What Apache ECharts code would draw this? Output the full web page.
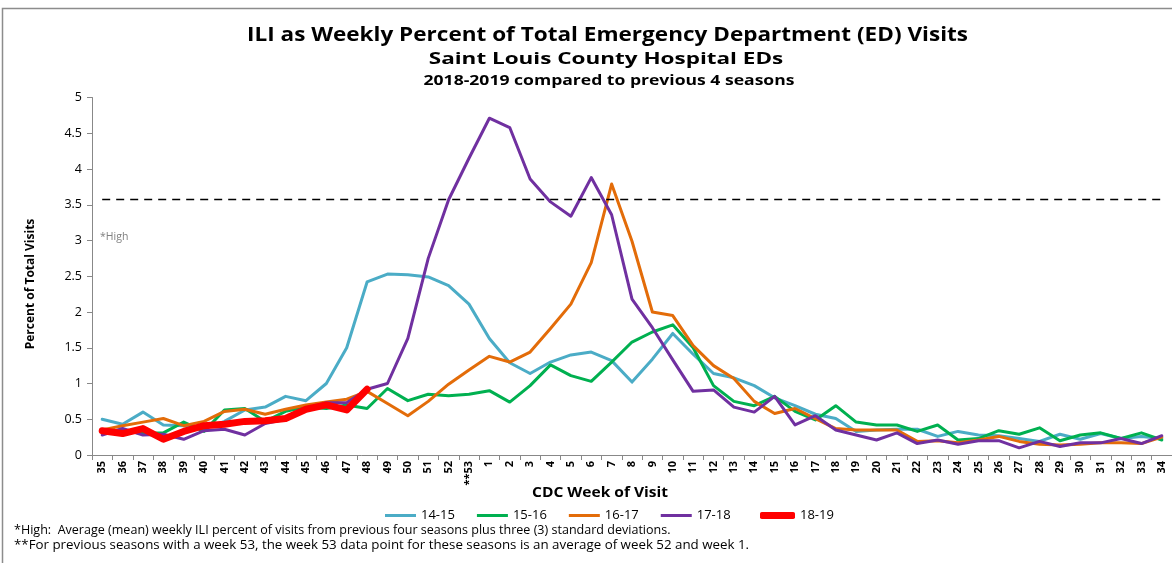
<!DOCTYPE html>
<html>
<head>
<meta charset="utf-8">
<script src="https://cdn.jsdelivr.net/npm/echarts@6/dist/echarts.min.js"></script>
<style>
html,body{margin:0;padding:0;background:#fff;}
#chart{width:1172px;height:563px;}
</style>
</head>
<body>
<div id="chart"></div>
<script>
const weeks = ['35','36','37','38','39','40','41','42','43','44','45','46','47','48','49','50','51','52','**53',
  '1','2','3','4','5','6','7','8','9','10','11','12','13','14','15','16','17','18','19','20','21','22','23','24','25','26','27','28','29','30','31','32','33','34'];

const s1415 = [0.50,0.43,0.60,0.42,0.41,0.37,0.47,0.63,0.67,0.82,0.76,1.00,1.50,2.42,2.53,2.52,2.49,2.37,2.11,
  1.63,1.29,1.14,1.30,1.40,1.44,1.32,1.02,1.34,1.70,1.41,1.14,1.08,0.97,0.80,0.69,0.57,0.51,0.33,0.35,0.36,0.36,0.26,0.33,0.28,0.27,0.23,0.19,0.29,0.22,0.30,0.23,0.26,0.23];
const s1516 = [0.33,0.34,0.30,0.31,0.46,0.33,0.63,0.65,0.47,0.61,0.67,0.65,0.70,0.65,0.93,0.76,0.85,0.83,0.85,
  0.90,0.74,0.97,1.26,1.11,1.03,1.30,1.58,1.72,1.82,1.50,0.97,0.75,0.69,0.82,0.61,0.49,0.69,0.46,0.42,0.42,0.33,0.42,0.21,0.23,0.34,0.29,0.38,0.20,0.28,0.31,0.23,0.31,0.21];
const s1617 = [0.35,0.41,0.46,0.51,0.41,0.47,0.61,0.64,0.57,0.64,0.70,0.74,0.78,0.89,0.72,0.55,0.75,0.99,1.19,
  1.38,1.30,1.44,1.77,2.11,2.69,3.79,2.99,2.00,1.95,1.53,1.25,1.07,0.75,0.58,0.65,0.51,0.37,0.35,0.35,0.35,0.19,0.20,0.17,0.21,0.26,0.19,0.15,0.14,0.15,0.17,0.17,0.16,0.25];
const s1718 = [0.28,0.37,0.28,0.29,0.22,0.34,0.36,0.28,0.44,0.50,0.65,0.73,0.73,0.92,1.00,1.63,2.75,3.57,4.15,
  4.71,4.58,3.86,3.54,3.34,3.88,3.36,2.18,1.78,1.33,0.89,0.91,0.67,0.60,0.82,0.42,0.55,0.35,0.28,0.21,0.31,0.16,0.21,0.15,0.20,0.20,0.10,0.19,0.12,0.17,0.17,0.23,0.16,0.27];
const s1819 = [0.34,0.30,0.37,0.22,0.33,0.41,0.43,0.47,0.48,0.51,0.64,0.70,0.63,0.92];
const highValue = 3.58;

const seriesNames = ['14-15','15-16','16-17','17-18','18-19'];
const seriesData = [s1415, s1516, s1617, s1718, s1819];
const colors = ['#4BACC6','#00B050','#E36C09','#7030A0','#FF0000'];
const widths = [3,3,3,3,7];

const FONT = 'Open Sans';
const chart = echarts.init(document.getElementById('chart'));

const series = seriesNames.map((n,i)=>({
  name:n, type:'line', data:seriesData[i], symbol:'none', showSymbol:false, smooth:false,
  lineStyle:{color:colors[i], width:widths[i], cap:'round', join:'round'},
  itemStyle:{color:colors[i]}, z: i===4?10:2
}));
series[0].markLine = {
  silent:true, symbol:'none', label:{show:false},
  lineStyle:{color:'#000', type:[8,6], width:1.3},
  data:[[{coord:[weeks[0], highValue]},{coord:[weeks[weeks.length-1], highValue]}]]
};

function txt(text, x, y, size, opts){
  opts = opts || {};
  return {type:'text', x:x, y:y, scaleX:opts.sx||1, rotation:opts.rot||0, silent:true,
    style:{text:text, fontFamily:FONT, fontSize:size, fontWeight:opts.bold?'bold':'normal',
      fill:opts.fill||'#000', align:opts.align||'center', verticalAlign:'middle'}};
}

chart.setOption({
  backgroundColor:'#fff',
  animation:false,
  legend:[
    {data:seriesNames.slice(0,4), left:385, top:509, padding:0, icon:'rect', itemWidth:31, itemHeight:3, itemGap:22,
     textStyle:{fontFamily:FONT, fontSize:13, color:'#000'}},
    {data:['18-19'], left:760, top:509, padding:0, icon:'roundRect', itemWidth:35, itemHeight:7, itemGap:22,
     textStyle:{fontFamily:FONT, fontSize:13, color:'#000'}}
  ],
  grid:{left:92, right:0, top:97.5, bottom:108, containLabel:false},
  xAxis:{
    type:'category', data:weeks, boundaryGap:true,
    axisLine:{lineStyle:{color:'#888', width:1}},
    axisTick:{show:true, length:5, lineStyle:{color:'#888'}, interval:0},
    axisLabel:{rotate:90, interval:0, fontFamily:FONT, fontSize:11, fontWeight:'bold', color:'#000', margin:6}
  },
  yAxis:{
    type:'value', min:0, max:5, interval:0.5,
    axisLine:{show:true, lineStyle:{color:'#888', width:1}},
    axisTick:{show:true, length:5, inside:false, lineStyle:{color:'#888'}},
    splitLine:{show:false},
    axisLabel:{fontFamily:FONT, fontSize:12.5, color:'#000', margin:10}
  },
  graphic:[
    {type:'rect', shape:{x:2.5, y:8.5, width:1300, height:700}, style:{fill:'none', stroke:'#8c8c8c', lineWidth:1.5}, silent:true},
    txt('ILI as Weekly Percent of Total Emergency Department (ED) Visits', 607.5, 36, 19, {bold:true, sx:1.186}),
    txt('Saint Louis County Hospital EDs', 606, 60, 15.5, {bold:true, sx:1.45}),
    txt('2018-2019 compared to previous 4 seasons', 609, 81, 13.5, {bold:true, sx:1.3}),
    txt('Percent of Total Visits', 31, 284, 12, {bold:true, rot:Math.PI/2}),
    txt('CDC Week of Visit', 600, 493, 13.5, {bold:true, sx:1.15}),
    txt('*High', 100, 237, 10.5, {fill:'#7f7f7f', align:'left'}),
    txt('*High:  Average (mean) weekly ILI percent of visits from previous four seasons plus three (3) standard deviations.', 14, 531, 12, {align:'left', sx:1.045}),
    txt('**For previous seasons with a week 53, the week 53 data point for these seasons is an average of week 52 and week 1.', 14, 546, 12, {align:'left', sx:1.11})
  ],
  series:series
});
</script>
</body>
</html>
